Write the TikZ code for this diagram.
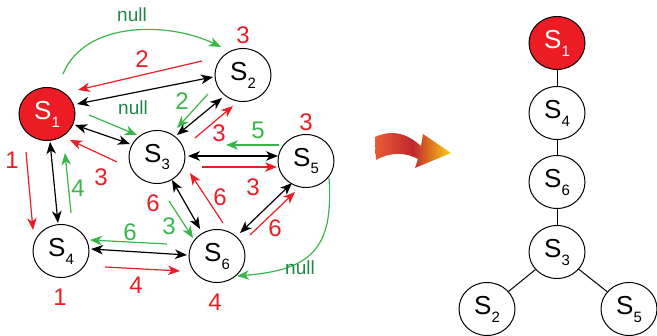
\documentclass[tikz,border=0pt]{standalone}
\usepackage{fontspec}
\setmainfont{Liberation Sans}
\usetikzlibrary{arrows.meta,shapes.geometric}

\definecolor{sred}{RGB}{237,28,36}
\definecolor{sgreen}{RGB}{57,181,74}
\definecolor{nullgreen}{RGB}{30,135,70}
\definecolor{shadeL}{RGB}{232,92,52}
\definecolor{shadeM}{RGB}{194,38,45}
\definecolor{shadeR}{RGB}{252,210,18}

\newcommand{\st}[1]{S\raisebox{-8pt}{\fontsize{15}{15}\selectfont #1}}

\tikzset{
  state/.style={ellipse, draw=black, line width=1pt, fill=white,
    minimum width=56pt, minimum height=53pt, inner sep=0pt,
    font=\fontsize{26}{26}\selectfont},
  startstate/.style={state, fill=sred, text=white},
  head/.style={Stealth[length=12pt,width=9.5pt,inset=3.5pt]},
  tip/.style={-{Stealth[length=12pt,width=9.5pt,inset=3.5pt]}},
  both/.style={{Stealth[length=12pt,width=9.5pt,inset=3.5pt]}-{Stealth[length=12pt,width=9.5pt,inset=3.5pt]}},
  blk/.style={both, draw=black, line width=1.2pt},
  redarr/.style={tip, draw=sred, line width=1.2pt},
  grnarr/.style={tip, draw=sgreen, line width=1.2pt},
  rnum/.style={text=sred, font=\fontsize{24}{24}\selectfont, inner sep=0pt},
  gnum/.style={text=sgreen, font=\fontsize{24}{24}\selectfont, inner sep=0pt},
  nulllab/.style={text=nullgreen, font=\fontsize{19}{19}\selectfont, inner sep=0pt},
  treeedge/.style={draw=black, line width=1pt}
}

\begin{document}
\begin{tikzpicture}[x=1pt, y=-1pt]
\useasboundingbox (0,0) rectangle (657,336);

% ---------------- state graph ----------------
\node[startstate] (S1) at (47,114) {\st{1}};
\node[state] (S2) at (243,75) {\st{2}};
\node[state] (S3) at (157,157) {\st{3}};
\node[state] (S4) at (61,251) {\st{4}};
\node[state] (S5) at (306,161) {\st{5}};
\node[state] (S6) at (217,256) {\st{6}};

% two-way links
\draw[blk] ([shift={(30,-10)}]S1.center) -- ([shift={(-30,2)}]S2.center);
\draw[blk] ([shift={(28,11)}]S1.center) -- ([shift={(-27,-13)}]S3.center);
\draw[blk] ([shift={(-21,23)}]S2.center) -- ([shift={(20,-22)}]S3.center);
\draw[blk] ([shift={(31,-1)}]S3.center) -- ([shift={(-28,-5)}]S5.center);
\draw[blk] ([shift={(3,28)}]S1.center) -- ([shift={(-3,-28)}]S4.center);
\draw[blk] ([shift={(30,-2)}]S4.center) -- ([shift={(-30,-1)}]S6.center);
\draw[blk] ([shift={(15,23)}]S3.center) -- ([shift={(-17,-27)}]S6.center);
\draw[blk] ([shift={(-14,22)}]S5.center) -- ([shift={(23,-23)}]S6.center);

% red moves
\draw[redarr] ([shift={(-41,-14)}]S2.center) -- ([shift={(31,-24)}]S1.center);
\draw[redarr] ([shift={(38,-19)}]S3.center) -- ([shift={(-10,31)}]S2.center);
\draw[redarr] ([shift={(-40,5)}]S3.center) -- ([shift={(23,26)}]S1.center);
\draw[redarr] ([shift={(-21,38)}]S1.center) -- ([shift={(-28,-21)}]S4.center);
\draw[redarr] ([shift={(44,16)}]S4.center) -- ([shift={(-37,15)}]S6.center);
\draw[redarr] ([shift={(45,10)}]S3.center) -- ([shift={(-29,6)}]S5.center);
\draw[redarr] ([shift={(6,-33)}]S6.center) -- ([shift={(33,16)}]S3.center);
\draw[redarr] ([shift={(33,-21)}]S6.center) -- ([shift={(-11,31)}]S5.center);

% green moves
\draw[grnarr] ([shift={(16,-40)}]S1.center)
  .. controls ([shift={(38,-94)}]S1.center) and ([shift={(-73,-53)}]S2.center)
  .. ([shift={(-22,-28)}]S2.center);
\draw[grnarr] ([shift={(42,1)}]S1.center) -- ([shift={(-20,-22)}]S3.center);
\draw[grnarr] ([shift={(-35,19)}]S2.center) -- ([shift={(20,-29)}]S3.center);
\draw[grnarr] ([shift={(-27,-16)}]S5.center) -- ([shift={(69,-12)}]S3.center);
\draw[grnarr] ([shift={(10,-38)}]S4.center) -- ([shift={(18,39)}]S1.center);
\draw[grnarr] ([shift={(-50,-12)}]S6.center) -- ([shift={(29,-11)}]S4.center);
\draw[grnarr] ([shift={(12,44)}]S3.center) -- ([shift={(-24,-18)}]S6.center);
\draw[grnarr] ([shift={(23,17)}]S5.center)
  .. controls ([shift={(28,89)}]S5.center) and ([shift={(93,14)}]S6.center)
  .. ([shift={(20,20)}]S6.center);

% labels
\node[nulllab] (n1) at (132,15) {null};
\node[nulllab] (n2) at (133,108) {null};
\node[nulllab] (n3) at (300,268) {null};
\node[rnum] (l1) at (243,35) {3};
\node[rnum] (l2) at (142,59) {2};
\node[gnum] (l3) at (182,101) {2};
\node[rnum] (l4) at (219,133) {3};
\node[gnum] (l5) at (258,130) {5};
\node[rnum] (l6) at (306,122) {3};
\node[rnum] (l7) at (101,177) {3};
\node[rnum] (l8) at (12,160) {1};
\node[gnum] (l9) at (78,188) {4};
\node[rnum] (l10) at (153,203) {6};
\node[gnum] (l11) at (169,226) {3};
\node[rnum] (l12) at (220,197) {6};
\node[rnum] (l13) at (253,187) {3};
\node[rnum] (l14) at (275,228) {6};
\node[gnum] (l15) at (130,232) {6};
\node[rnum] (l16) at (60,297) {1};
\node[rnum] (l17) at (136,285) {4};
\node[rnum] (l18) at (215,302) {4};

% ---------------- transition arrow ----------------
\path[left color=shadeL, right color=shadeR, middle color=shadeM]
  (375,137) .. controls (395,128) and (410,136) .. (421,146)
  -- (423,134) -- (451,153) -- (415,168) -- (418,159)
  .. controls (405,152) and (390,152) .. (376,160) -- cycle;

% ---------------- resulting tree ----------------
\node[startstate] (T1) at (557,43) {\st{1}};
\node[state] (T4) at (557,113) {\st{4}};
\node[state] (T6) at (557,182) {\st{6}};
\node[state] (T3) at (557,252) {\st{3}};
\node[state] (T2) at (487,309) {\st{2}};
\node[state] (T5) at (629,309) {\st{5}};
\draw[treeedge] (T1) -- (T4);
\draw[treeedge] (T4) -- (T6);
\draw[treeedge] (T6) -- (T3);
\draw[treeedge] (T3) -- (T2);
\draw[treeedge] (T3) -- (T5);
\end{tikzpicture}
\end{document}
